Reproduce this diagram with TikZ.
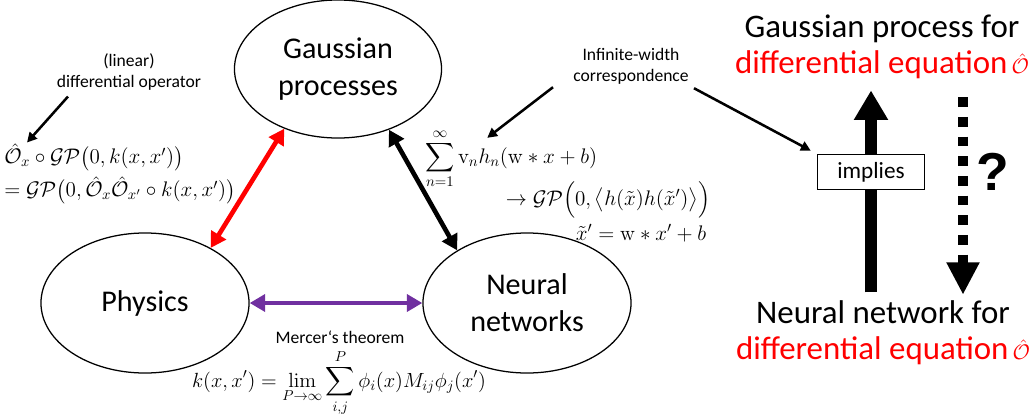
\RequirePackage{fix-cm}
\documentclass[tikz,border=0pt]{standalone}
\usepackage{amsmath}
\usepackage[no-math]{fontspec}
\setmainfont{Carlito}
\newfontfamily\qfont{Liberation Sans}
\usetikzlibrary{arrows.meta,shapes.geometric,backgrounds}
\definecolor{mercer}{RGB}{112,48,160}

\begin{document}
\begin{tikzpicture}[x=0.025cm,y=-0.025cm]
\tikzstyle{every node}=[inner sep=0pt]
\tikzstyle{topic}=[ellipse,draw,line width=0.9pt,minimum width=5.2cm,minimum height=3.5cm,align=center,font=\fontsize{21.4}{26.3}\selectfont]
\tikzstyle{note}=[align=center,font=\fontsize{12.5}{14.8}\selectfont]
\tikzstyle{formula}=[font=\fontsize{15}{18}\selectfont]
\tikzstyle{claim}=[align=center,font=\fontsize{23.4}{25.5}\selectfont]
\tikzstyle{link}=[line width=3.3pt,{Triangle[length=11pt,width=12pt]}-{Triangle[length=11pt,width=12pt]}]
\tikzstyle{pointer}=[line width=1.8pt,-{Triangle[length=7pt,width=7pt]}]
\newcommand{\opO}{\hat{\mathcal{O}}}
\newcommand{\redO}{\hspace{0.12em}{\fontsize{15}{18}\selectfont$\opO$}}

\useasboundingbox (0,0) rectangle (1035,416);

\node[topic,minimum width=5.175cm,minimum height=3.45cm] (gp) at (338,69) {Gaussian\\processes};
\node[topic] (phys) at (145,303) {Physics};
\node[topic] (nn) at (527,303) {Neural\\networks};

\draw[link,red] (phys.40) -- (gp.228);
\draw[link] (gp.310) -- (nn.143);
\draw[link,mercer] (phys.east) -- (nn.west);

\node[note] (op) at (129,72) {(linear)\\differential operator};
\node[formula,align=left,font=\fontsize{15}{23.5}\selectfont,anchor=west] (opeq) at (4,174)
{$\opO_x\circ\mathcal{GP}\big(0,k(x,x')\big)$\\$=\mathcal{GP}\big(0,\opO_x\opO_{x'}\circ k(x,x')\big)$};
\draw[pointer] ([shift={(-61,6)}]op.south) -- ([shift={(23,-1)}]opeq.north west);

\node[note] (iw) at (631,66) {Infinite-width\\correspondence};
\node[formula,anchor=west] (nnsum) at (425,159) {$\displaystyle\sum_{n=1}^{\infty}\mathrm{v}_n h_n(\mathrm{w}*x+b)$};
\node[formula] (nngp) at (608,200) {$\to\mathcal{GP}\Big(0,\big\langle h(\tilde{x})h(\tilde{x}')\big\rangle\Big)$};
\node[formula] (xt) at (641,233) {$\tilde{x}'=\mathrm{w}*x'+b$};
\draw[pointer] ([shift={(-78,3)}]iw.south) -- ([shift={(-24,9)}]nnsum.north);

\node[note] (mt) at (340,337) {Mercer‘s theorem};
\node[formula,font=\fontsize{14.6}{18}\selectfont] (kdef) at (339,383) {$\displaystyle k(x,x')=\lim_{P\to\infty}\sum_{i,j}^{P}\phi_i(x)M_{ij}\phi_j(x')$};

\node[claim] (gpfor) at (882,47) {Gaussian process for\\\textcolor{red}{differential equation\redO}};
\node[claim] (nnfor) at (883,333) {Neural network for\\\textcolor{red}{differential equation\redO}};
\node[draw,fill=white,line width=0.8pt,minimum width=2.675cm,minimum height=0.875cm,font=\fontsize{16.5}{18}\selectfont] (imp) at (871,172) {implies};
\begin{pgfonlayer}{background}
\draw[line width=8.5pt,-{Triangle[length=21pt,width=23pt]},shorten <=6pt,shorten >=8pt] (imp |- nnfor.north) -- (imp |- gpfor.south);
\end{pgfonlayer}
\draw[pointer,shorten >=5pt] ([shift={(63,4)}]iw.south) -- (imp.north west);
\draw[line width=7pt,dash pattern=on 7pt off 7pt,-{Triangle[length=23pt,width=22pt]}] ([shift={(81,18)}]gpfor.south) -- ([shift={(80,-6)}]nnfor.north);
\node[font=\qfont\bfseries\fontsize{38}{40}\selectfont] (q) at (993,172) {?};
\end{tikzpicture}
\end{document}
